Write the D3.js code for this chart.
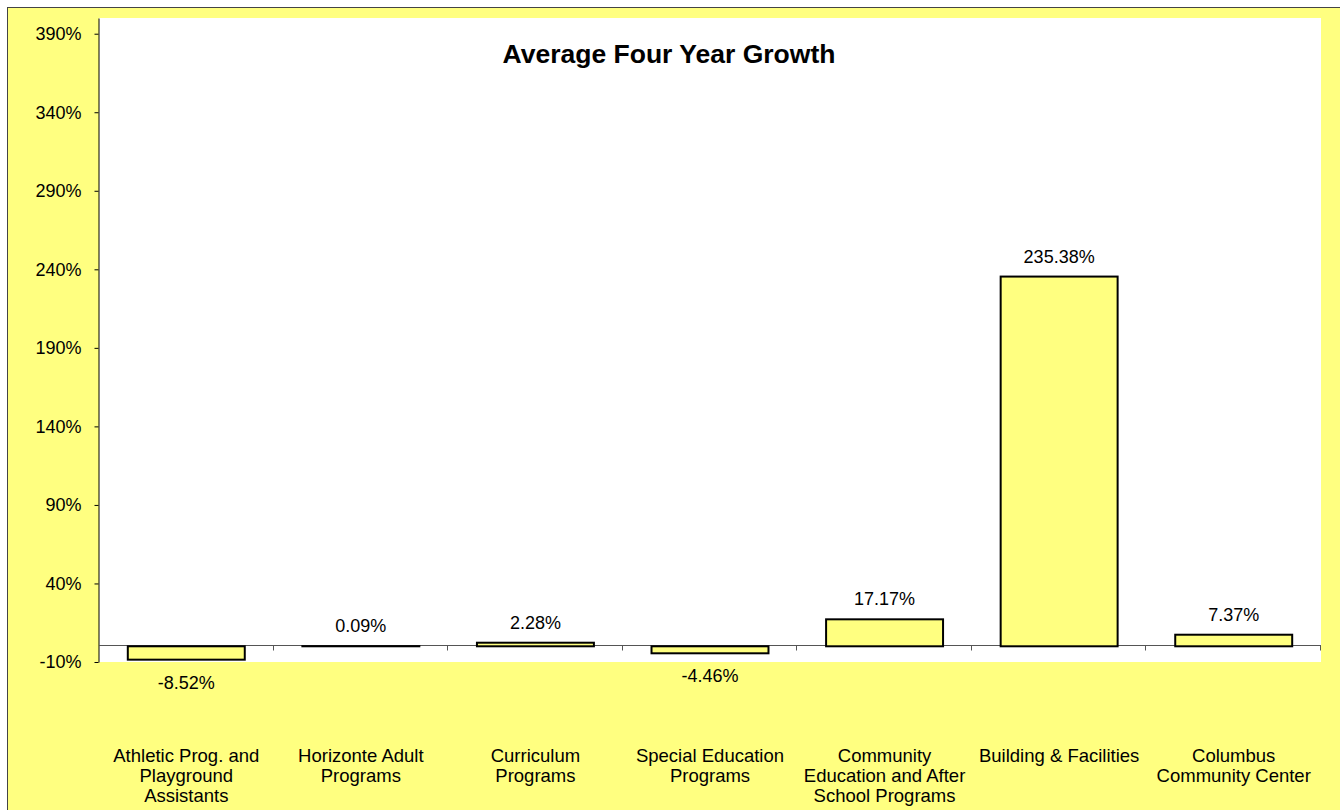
<!DOCTYPE html>
<html>
<head>
<meta charset="utf-8">
<script src="https://cdn.jsdelivr.net/npm/d3@7"></script>
<style>
  html, body { margin: 0; padding: 0; background: #ffffff; }
  svg { display: block; font-family: "Liberation Sans", Arial, sans-serif; }
</style>
</head>
<body>
<svg id="chart" width="1340" height="810"></svg>
<script>
// Category labels, one entry per wrapped line
const categories = [
  ["Athletic Prog. and", "Playground", "Assistants"],
  ["Horizonte Adult", "Programs"],
  ["Curriculum", "Programs"],
  ["Special Education", "Programs"],
  ["Community", "Education and After", "School Programs"],
  ["Building & Facilities"],
  ["Columbus", "Community Center"]
];
// Average four year growth, in percent
const growth = [-8.52, 0.09, 2.28, -4.46, 17.17, 235.38, 7.37];
// Value axis ticks, in percent
const yTicks = [-10, 40, 90, 140, 190, 240, 290, 340, 390];
const yDomain = [-10, 400];
const title = "Average Four Year Growth";

const W = 1340, H = 810;
const plot = { left: 99, right: 1321, top: 18, bottom: 662 };
const bg = "#FFFF80";

const svg = d3.select("#chart");

// chart area with its frame
svg.append("rect")
  .attr("x", 7.5).attr("y", 7.5)
  .attr("width", W).attr("height", H)
  .attr("fill", bg)
  .attr("stroke", "#444").attr("stroke-width", 1);

// white plot area
svg.append("rect")
  .attr("x", plot.left).attr("y", plot.top)
  .attr("width", plot.right - plot.left).attr("height", plot.bottom - plot.top)
  .attr("fill", "#ffffff");

const keys = categories.map(d => d.join(" "));
const x = d3.scaleBand()
  .domain(keys)
  .range([plot.left, plot.right])
  .paddingInner(0.33)
  .paddingOuter(0.165);

const y = d3.scaleLinear().domain(yDomain).range([plot.bottom, plot.top]);

// title
svg.append("text")
  .attr("x", 669).attr("y", 63)
  .attr("text-anchor", "middle")
  .attr("font-size", 26.5).attr("font-weight", "bold")
  .attr("fill", "#000")
  .text(title);

// value axis
const yAxis = d3.axisLeft(y)
  .tickValues(yTicks)
  .tickFormat(d => d + "%")
  .tickSize(4)
  .tickSizeOuter(0)
  .tickPadding(13);

const gy = svg.append("g")
  .attr("transform", `translate(${plot.left - 0.5},0)`)
  .call(yAxis);
gy.select(".domain").attr("stroke", "#000");
gy.selectAll(".tick line").attr("stroke", "#000");
gy.selectAll(".tick text")
  .attr("font-size", 18)
  .attr("font-family", "Liberation Sans, Arial, sans-serif")
  .attr("fill", "#000");

// category axis along zero
const y0 = Math.round(y(0)) - 0.5;
svg.append("line")
  .attr("x1", plot.left).attr("x2", plot.right)
  .attr("y1", y0).attr("y2", y0)
  .attr("stroke", "#555").attr("stroke-width", 1);

const step = x.step();
const boundaries = keys.map(k => x(k) + x.bandwidth() + step * x.paddingInner() / 2);
svg.append("g").selectAll("line")
  .data(boundaries)
  .join("line")
  .attr("x1", d => Math.round(d) - 0.5).attr("x2", d => Math.round(d) - 0.5)
  .attr("y1", y0).attr("y2", y0 + 5)
  .attr("stroke", "#555").attr("stroke-width", 1);

// bars
const data = keys.map((k, i) => ({ key: k, value: growth[i] }));
svg.append("g").selectAll("rect")
  .data(data)
  .join("rect")
  .attr("x", d => x(d.key))
  .attr("width", x.bandwidth())
  .attr("y", d => Math.min(y(d.value), y(0)))
  .attr("height", d => Math.abs(y(d.value) - y(0)))
  .attr("fill", bg)
  .attr("stroke", "#000")
  .attr("stroke-width", 2);

// value labels
svg.append("g").selectAll("text")
  .data(data)
  .join("text")
  .attr("x", d => x(d.key) + x.bandwidth() / 2)
  .attr("y", d => d.value >= 0 ? y(d.value) - 14 : y(d.value) + 29)
  .attr("text-anchor", "middle")
  .attr("font-size", 18)
  .attr("fill", "#000")
  .text(d => d.value.toFixed(2) + "%");

// category labels
const lab = svg.append("g").selectAll("text")
  .data(categories)
  .join("text")
  .attr("text-anchor", "middle")
  .attr("font-size", 18.5)
  .attr("fill", "#000")
  .attr("transform", (d, i) => `translate(${x(keys[i]) + x.bandwidth() / 2},762)`);
lab.selectAll("tspan")
  .data(d => d)
  .join("tspan")
  .attr("x", 0)
  .attr("y", (d, i) => i * 20)
  .text(d => d);
</script>
</body>
</html>
